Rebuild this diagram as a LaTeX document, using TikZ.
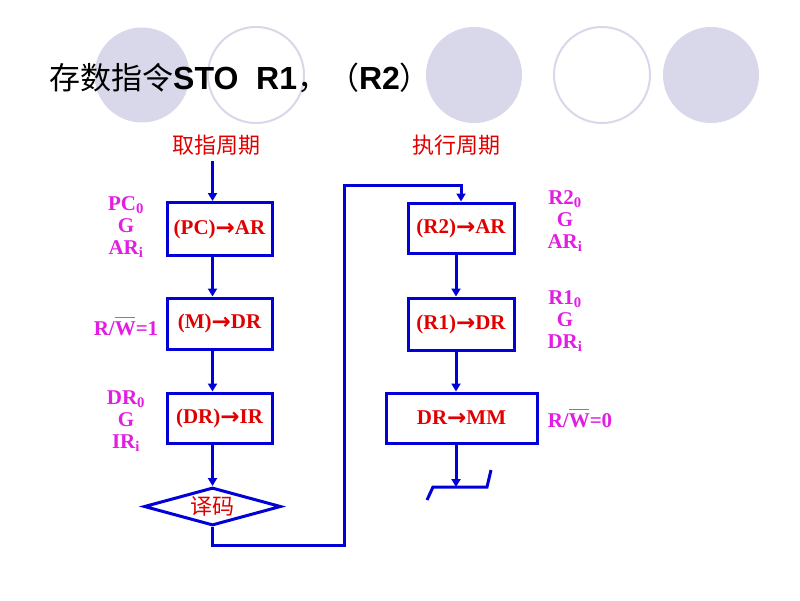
\documentclass[tikz,border=0pt]{standalone}
\usepackage{fontspec}
\setmainfont{Liberation Serif}
\newfontfamily\cjk{Noto Sans CJK SC}
\newfontfamily\arialf{Liberation Sans}
\newfontfamily\dvs{DejaVu Sans}
\usetikzlibrary{arrows.meta,shapes.geometric}
\definecolor{lineblue}{RGB}{0,0,215}
\definecolor{txtred}{RGB}{225,0,0}
\definecolor{mag}{RGB}{225,30,225}
\definecolor{lav}{RGB}{216,216,234}
\definecolor{ovl}{RGB}{205,110,40}
\newcommand{\myarr}{\raisebox{-1pt}{\dvs\bfseries\fontsize{23}{23}\selectfont →}}
\newcommand{\Wbar}{\makebox[0pt][l]{\textcolor{ovl}{\rule[0.82em]{0.95em}{0.06em}}}W}
\begin{document}
\begin{tikzpicture}[x=1pt,y=-1pt,
  opbox/.style={draw=lineblue, line width=3pt, inner sep=0pt, text=txtred,
    font=\bfseries\fontsize{21}{22}\selectfont},
  flow/.style={draw=lineblue, line width=3pt},
  arr/.style={flow, -{Triangle[length=8pt,width=9pt]}},
  sig/.style={text=mag, align=center, inner sep=0pt,
    font=\bfseries\fontsize{21}{22}\selectfont},
  head/.style={text=txtred, inner sep=0pt, font=\cjk\fontsize{22}{22}\selectfont},
  disc/.style={fill=lav, draw=none},
  ring/.style={draw=lav, line width=2pt}]
\useasboundingbox (0,0) rectangle (800,600);
\fill[white] (0,0) rectangle (800,600);
% background circles
\path[disc] (142,75) circle (47.5);
\path[ring] (256,75) circle (48);
\path[disc] (474,75) circle (48);
\path[ring] (602,75) circle (48);
\path[disc] (711,75) circle (48);
% title
\node[anchor=base west, inner sep=0pt] (title) at (49,89)
  {{\cjk\fontsize{31}{31}\selectfont 存数指令}{\arialf\bfseries\fontsize{32}{32}\selectfont STO\ \ R1}{\cjk\fontsize{31}{31}\selectfont ，（}{\arialf\bfseries\fontsize{32}{32}\selectfont R2}{\cjk\fontsize{31}{31}\selectfont ）}};
% headers
\node[head] (h1) at (216,145) {取指周期};
\node[head] (h2) at (456,145) {执行周期};
% column x references
\coordinate (Lx) at (212.5,0);
\coordinate (Rt) at (461,0);
\coordinate (Rx) at (456,0);
% left column
\coordinate (lstart) at (212.5,161);
\node[opbox, minimum width=105pt, minimum height=53pt] (b1) at (219.5,229) {(PC)\myarr AR};
\node[opbox, minimum width=105pt, minimum height=51pt] (b2) at (219.5,323.5) {(M)\myarr DR};
\node[opbox, minimum width=105pt, minimum height=50pt] (b3) at (219.5,418) {(DR)\myarr IR};
\node[diamond, draw=lineblue, line width=3pt, aspect=3.6, minimum width=137pt,
  minimum height=38pt, inner sep=0pt, text=txtred,
  font=\cjk\fontsize{22}{22}\selectfont] (dec) at (212.5,506.5) {\raisebox{2pt}{译码}};
\draw[arr] (lstart) -- (b1.north -| Lx);
\draw[arr] (b1.south -| Lx) -- (b2.north -| Lx);
\draw[arr] (b2.south -| Lx) -- (b3.north -| Lx);
\draw[arr] (b3.south -| Lx) -- (dec.north);
% loop connector
\coordinate (jb) at (344,545);
\coordinate (jt) at (344,185);
% right column
\node[opbox, minimum width=106pt, minimum height=50pt] (r1) at (461,228) {(R2)\myarr AR};
\node[opbox, minimum width=106pt, minimum height=52pt] (r2) at (461,324) {(R1)\myarr DR};
\node[opbox, minimum width=151pt, minimum height=50pt] (r3) at (461.5,418) {DR\myarr MM};
\draw[flow, -{Triangle[length=8pt,width=9pt]}] (dec.south) |- (jb) -- (jt) -| (r1.north -| Rt);
\draw[arr] (r1.south -| Rx) -- (r2.north -| Rx);
\draw[arr] (r2.south -| Rx) -- (r3.north -| Rx);
% end symbol
\coordinate (eL) at (433,487);
\coordinate (eR) at (487,487);
\coordinate (eLL) at (427,500);
\coordinate (eRR) at (491,470);
\draw[arr] (r3.south -| Rx) -- (eL -| Rx);
\draw[flow, line join=miter] (eLL) -- (eL) -- (eR) -- (eRR);
% signal labels
\node[sig] (s1) at (126,227) {PC\textsubscript{0}\\G\\AR\textsubscript{i}};
\node[sig] (s2) at (126,326) {R/\Wbar=1};
\node[sig] (s3) at (126,421) {DR\textsubscript{0}\\G\\IR\textsubscript{i}};
\node[sig] (s4) at (565,221) {R2\textsubscript{0}\\G\\AR\textsubscript{i}};
\node[sig] (s5) at (565,321) {R1\textsubscript{0}\\G\\DR\textsubscript{i}};
\node[sig] (s6) at (580,418) {R/\Wbar=0};
\end{tikzpicture}
\end{document}
